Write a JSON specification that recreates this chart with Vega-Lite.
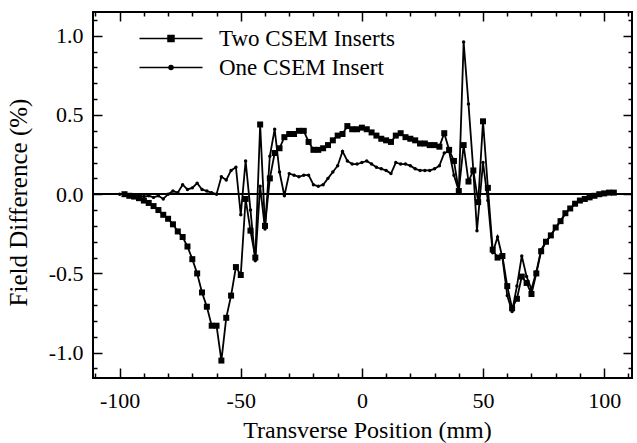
{
  "$schema": "https://vega.github.io/schema/vega-lite/v6.json",
  "width": 539,
  "height": 366,
  "autosize": {"type": "none"},
  "padding": {"left": 93, "top": 12, "right": 5, "bottom": 65},
  "background": "white",
  "config": {
    "view": {"stroke": "black", "strokeWidth": 2},
    "font": "Liberation Serif",
    "axis": {"grid": false, "domain": false, "tickColor": "black", "tickWidth": 1.5, "labelColor": "black", "titleColor": "black", "labelFont": "Liberation Serif", "titleFont": "Liberation Serif", "labelFontSize": 22, "titleFontSize": 24, "titleFontWeight": "normal"}
  },
  "datasets": {
    "d": [
      {"s": "Two CSEM Inserts", "x": -98, "y": 0}, {"s": "Two CSEM Inserts", "x": -96, "y": -0.01}, {"s": "Two CSEM Inserts", "x": -94, "y": -0.015}, {"s": "Two CSEM Inserts", "x": -92, "y": -0.025}, {"s": "Two CSEM Inserts", "x": -90, "y": -0.04}, {"s": "Two CSEM Inserts", "x": -88, "y": -0.055}, {"s": "Two CSEM Inserts", "x": -86, "y": -0.075}, {"s": "Two CSEM Inserts", "x": -84, "y": -0.1}, {"s": "Two CSEM Inserts", "x": -82, "y": -0.13}, {"s": "Two CSEM Inserts", "x": -80, "y": -0.155}, {"s": "Two CSEM Inserts", "x": -78, "y": -0.19}, {"s": "Two CSEM Inserts", "x": -76, "y": -0.235}, {"s": "Two CSEM Inserts", "x": -74, "y": -0.27}, {"s": "Two CSEM Inserts", "x": -72, "y": -0.33}, {"s": "Two CSEM Inserts", "x": -70, "y": -0.41}, {"s": "Two CSEM Inserts", "x": -68, "y": -0.5}, {"s": "Two CSEM Inserts", "x": -66, "y": -0.62}, {"s": "Two CSEM Inserts", "x": -64, "y": -0.71}, {"s": "Two CSEM Inserts", "x": -62, "y": -0.83}, {"s": "Two CSEM Inserts", "x": -60, "y": -0.83}, {"s": "Two CSEM Inserts", "x": -58, "y": -1.05}, {"s": "Two CSEM Inserts", "x": -56, "y": -0.78}, {"s": "Two CSEM Inserts", "x": -54, "y": -0.64}, {"s": "Two CSEM Inserts", "x": -52, "y": -0.46}, {"s": "Two CSEM Inserts", "x": -50, "y": -0.51}, {"s": "Two CSEM Inserts", "x": -48, "y": -0.03}, {"s": "Two CSEM Inserts", "x": -46, "y": -0.23}, {"s": "Two CSEM Inserts", "x": -44, "y": -0.4}, {"s": "Two CSEM Inserts", "x": -42, "y": 0.44}, {"s": "Two CSEM Inserts", "x": -40, "y": -0.2}, {"s": "Two CSEM Inserts", "x": -38, "y": 0.1}, {"s": "Two CSEM Inserts", "x": -36, "y": 0.26}, {"s": "Two CSEM Inserts", "x": -34, "y": 0.29}, {"s": "Two CSEM Inserts", "x": -32, "y": 0.36}, {"s": "Two CSEM Inserts", "x": -30, "y": 0.38}, {"s": "Two CSEM Inserts", "x": -28, "y": 0.38}, {"s": "Two CSEM Inserts", "x": -26, "y": 0.4}, {"s": "Two CSEM Inserts", "x": -24, "y": 0.4}, {"s": "Two CSEM Inserts", "x": -22, "y": 0.33}, {"s": "Two CSEM Inserts", "x": -20, "y": 0.28}, {"s": "Two CSEM Inserts", "x": -18, "y": 0.28}, {"s": "Two CSEM Inserts", "x": -16, "y": 0.29}, {"s": "Two CSEM Inserts", "x": -14, "y": 0.31}, {"s": "Two CSEM Inserts", "x": -12, "y": 0.34}, {"s": "Two CSEM Inserts", "x": -10, "y": 0.37}, {"s": "Two CSEM Inserts", "x": -8, "y": 0.38}, {"s": "Two CSEM Inserts", "x": -6, "y": 0.43}, {"s": "Two CSEM Inserts", "x": -4, "y": 0.41}, {"s": "Two CSEM Inserts", "x": -2, "y": 0.41}, {"s": "Two CSEM Inserts", "x": 0, "y": 0.42}, {"s": "Two CSEM Inserts", "x": 2, "y": 0.41}, {"s": "Two CSEM Inserts", "x": 4, "y": 0.39}, {"s": "Two CSEM Inserts", "x": 6, "y": 0.37}, {"s": "Two CSEM Inserts", "x": 8, "y": 0.35}, {"s": "Two CSEM Inserts", "x": 10, "y": 0.34}, {"s": "Two CSEM Inserts", "x": 12, "y": 0.33}, {"s": "Two CSEM Inserts", "x": 14, "y": 0.37}, {"s": "Two CSEM Inserts", "x": 16, "y": 0.385}, {"s": "Two CSEM Inserts", "x": 18, "y": 0.36}, {"s": "Two CSEM Inserts", "x": 20, "y": 0.35}, {"s": "Two CSEM Inserts", "x": 22, "y": 0.34}, {"s": "Two CSEM Inserts", "x": 24, "y": 0.32}, {"s": "Two CSEM Inserts", "x": 26, "y": 0.32}, {"s": "Two CSEM Inserts", "x": 28, "y": 0.31}, {"s": "Two CSEM Inserts", "x": 30, "y": 0.31}, {"s": "Two CSEM Inserts", "x": 32, "y": 0.3}, {"s": "Two CSEM Inserts", "x": 34, "y": 0.385}, {"s": "Two CSEM Inserts", "x": 36, "y": 0.28}, {"s": "Two CSEM Inserts", "x": 38, "y": 0.21}, {"s": "Two CSEM Inserts", "x": 40, "y": 0.02}, {"s": "Two CSEM Inserts", "x": 42, "y": 0.31}, {"s": "Two CSEM Inserts", "x": 44, "y": 0.08}, {"s": "Two CSEM Inserts", "x": 46, "y": 0.15}, {"s": "Two CSEM Inserts", "x": 48, "y": -0.05}, {"s": "Two CSEM Inserts", "x": 50, "y": 0.46}, {"s": "Two CSEM Inserts", "x": 52, "y": 0.04}, {"s": "Two CSEM Inserts", "x": 54, "y": -0.35}, {"s": "Two CSEM Inserts", "x": 56, "y": -0.4}, {"s": "Two CSEM Inserts", "x": 58, "y": -0.39}, {"s": "Two CSEM Inserts", "x": 60, "y": -0.58}, {"s": "Two CSEM Inserts", "x": 62, "y": -0.72}, {"s": "Two CSEM Inserts", "x": 64, "y": -0.66}, {"s": "Two CSEM Inserts", "x": 66, "y": -0.52}, {"s": "Two CSEM Inserts", "x": 68, "y": -0.56}, {"s": "Two CSEM Inserts", "x": 70, "y": -0.63}, {"s": "Two CSEM Inserts", "x": 72, "y": -0.5}, {"s": "Two CSEM Inserts", "x": 74, "y": -0.36}, {"s": "Two CSEM Inserts", "x": 76, "y": -0.3}, {"s": "Two CSEM Inserts", "x": 78, "y": -0.26}, {"s": "Two CSEM Inserts", "x": 80, "y": -0.21}, {"s": "Two CSEM Inserts", "x": 82, "y": -0.17}, {"s": "Two CSEM Inserts", "x": 84, "y": -0.12}, {"s": "Two CSEM Inserts", "x": 86, "y": -0.09}, {"s": "Two CSEM Inserts", "x": 88, "y": -0.06}, {"s": "Two CSEM Inserts", "x": 90, "y": -0.04}, {"s": "Two CSEM Inserts", "x": 92, "y": -0.03}, {"s": "Two CSEM Inserts", "x": 94, "y": -0.02}, {"s": "Two CSEM Inserts", "x": 96, "y": -0.01}, {"s": "Two CSEM Inserts", "x": 98, "y": 0}, {"s": "Two CSEM Inserts", "x": 100, "y": 0.005}, {"s": "Two CSEM Inserts", "x": 102, "y": 0.01}, {"s": "Two CSEM Inserts", "x": 104, "y": 0.01},
      {"s": "One CSEM Insert", "x": -100, "y": 0}, {"s": "One CSEM Insert", "x": -98, "y": 0}, {"s": "One CSEM Insert", "x": -96, "y": -0.005}, {"s": "One CSEM Insert", "x": -94, "y": -0.01}, {"s": "One CSEM Insert", "x": -92, "y": -0.01}, {"s": "One CSEM Insert", "x": -90, "y": -0.015}, {"s": "One CSEM Insert", "x": -88, "y": -0.01}, {"s": "One CSEM Insert", "x": -86, "y": -0.02}, {"s": "One CSEM Insert", "x": -84, "y": -0.01}, {"s": "One CSEM Insert", "x": -82, "y": -0.03}, {"s": "One CSEM Insert", "x": -80, "y": 0}, {"s": "One CSEM Insert", "x": -78, "y": 0.02}, {"s": "One CSEM Insert", "x": -76, "y": 0.01}, {"s": "One CSEM Insert", "x": -74, "y": 0.06}, {"s": "One CSEM Insert", "x": -72, "y": 0.03}, {"s": "One CSEM Insert", "x": -70, "y": 0.04}, {"s": "One CSEM Insert", "x": -68, "y": 0.07}, {"s": "One CSEM Insert", "x": -66, "y": 0.03}, {"s": "One CSEM Insert", "x": -64, "y": 0.02}, {"s": "One CSEM Insert", "x": -62, "y": 0.01}, {"s": "One CSEM Insert", "x": -60, "y": 0}, {"s": "One CSEM Insert", "x": -58, "y": 0.11}, {"s": "One CSEM Insert", "x": -56, "y": 0.09}, {"s": "One CSEM Insert", "x": -54, "y": 0.15}, {"s": "One CSEM Insert", "x": -52, "y": 0.17}, {"s": "One CSEM Insert", "x": -50, "y": -0.13}, {"s": "One CSEM Insert", "x": -48, "y": 0.21}, {"s": "One CSEM Insert", "x": -46, "y": -0.1}, {"s": "One CSEM Insert", "x": -44, "y": -0.42}, {"s": "One CSEM Insert", "x": -42, "y": 0.05}, {"s": "One CSEM Insert", "x": -40, "y": -0.22}, {"s": "One CSEM Insert", "x": -38, "y": 0.24}, {"s": "One CSEM Insert", "x": -36, "y": 0.41}, {"s": "One CSEM Insert", "x": -34, "y": 0.14}, {"s": "One CSEM Insert", "x": -32, "y": -0.01}, {"s": "One CSEM Insert", "x": -30, "y": 0.13}, {"s": "One CSEM Insert", "x": -28, "y": 0.12}, {"s": "One CSEM Insert", "x": -26, "y": 0.11}, {"s": "One CSEM Insert", "x": -24, "y": 0.12}, {"s": "One CSEM Insert", "x": -22, "y": 0.12}, {"s": "One CSEM Insert", "x": -20, "y": 0.06}, {"s": "One CSEM Insert", "x": -18, "y": 0.05}, {"s": "One CSEM Insert", "x": -16, "y": 0.06}, {"s": "One CSEM Insert", "x": -14, "y": 0.1}, {"s": "One CSEM Insert", "x": -12, "y": 0.14}, {"s": "One CSEM Insert", "x": -10, "y": 0.18}, {"s": "One CSEM Insert", "x": -8, "y": 0.27}, {"s": "One CSEM Insert", "x": -6, "y": 0.21}, {"s": "One CSEM Insert", "x": -4, "y": 0.19}, {"s": "One CSEM Insert", "x": -2, "y": 0.19}, {"s": "One CSEM Insert", "x": 0, "y": 0.2}, {"s": "One CSEM Insert", "x": 2, "y": 0.21}, {"s": "One CSEM Insert", "x": 4, "y": 0.19}, {"s": "One CSEM Insert", "x": 6, "y": 0.17}, {"s": "One CSEM Insert", "x": 8, "y": 0.16}, {"s": "One CSEM Insert", "x": 10, "y": 0.15}, {"s": "One CSEM Insert", "x": 12, "y": 0.13}, {"s": "One CSEM Insert", "x": 14, "y": 0.2}, {"s": "One CSEM Insert", "x": 16, "y": 0.19}, {"s": "One CSEM Insert", "x": 18, "y": 0.19}, {"s": "One CSEM Insert", "x": 20, "y": 0.18}, {"s": "One CSEM Insert", "x": 22, "y": 0.16}, {"s": "One CSEM Insert", "x": 24, "y": 0.15}, {"s": "One CSEM Insert", "x": 26, "y": 0.15}, {"s": "One CSEM Insert", "x": 28, "y": 0.15}, {"s": "One CSEM Insert", "x": 30, "y": 0.16}, {"s": "One CSEM Insert", "x": 32, "y": 0.18}, {"s": "One CSEM Insert", "x": 34, "y": 0.26}, {"s": "One CSEM Insert", "x": 36, "y": 0.27}, {"s": "One CSEM Insert", "x": 38, "y": 0.12}, {"s": "One CSEM Insert", "x": 40, "y": 0.02}, {"s": "One CSEM Insert", "x": 42, "y": 0.96}, {"s": "One CSEM Insert", "x": 44, "y": 0.57}, {"s": "One CSEM Insert", "x": 46, "y": 0.15}, {"s": "One CSEM Insert", "x": 47.5, "y": -0.23}, {"s": "One CSEM Insert", "x": 50, "y": 0.2}, {"s": "One CSEM Insert", "x": 52, "y": -0.04}, {"s": "One CSEM Insert", "x": 54, "y": -0.37}, {"s": "One CSEM Insert", "x": 56, "y": -0.27}, {"s": "One CSEM Insert", "x": 58, "y": -0.4}, {"s": "One CSEM Insert", "x": 60, "y": -0.64}, {"s": "One CSEM Insert", "x": 62, "y": -0.74}, {"s": "One CSEM Insert", "x": 64, "y": -0.58}, {"s": "One CSEM Insert", "x": 66, "y": -0.39}, {"s": "One CSEM Insert", "x": 68, "y": -0.52}, {"s": "One CSEM Insert", "x": 70, "y": -0.6}, {"s": "One CSEM Insert", "x": 72, "y": -0.49}, {"s": "One CSEM Insert", "x": 74, "y": -0.35}, {"s": "One CSEM Insert", "x": 76, "y": -0.3}, {"s": "One CSEM Insert", "x": 78, "y": -0.26}, {"s": "One CSEM Insert", "x": 80, "y": -0.21}, {"s": "One CSEM Insert", "x": 82, "y": -0.17}, {"s": "One CSEM Insert", "x": 84, "y": -0.12}, {"s": "One CSEM Insert", "x": 86, "y": -0.09}, {"s": "One CSEM Insert", "x": 88, "y": -0.06}, {"s": "One CSEM Insert", "x": 90, "y": -0.04}, {"s": "One CSEM Insert", "x": 92, "y": -0.03}, {"s": "One CSEM Insert", "x": 94, "y": -0.02}, {"s": "One CSEM Insert", "x": 96, "y": -0.01}, {"s": "One CSEM Insert", "x": 98, "y": 0}, {"s": "One CSEM Insert", "x": 100, "y": 0.005}, {"s": "One CSEM Insert", "x": 102, "y": 0.01}
    ]
  },
  "data": {"name": "d"},
  "resolve": {"axis": {"x": "independent", "y": "independent"}, "scale": {"shape": "independent", "size": "independent"}},
  "layer": [
    {
      "mark": {"type": "rule", "color": "black", "strokeWidth": 1},
      "encoding": {
        "y": {"datum": 0, "type": "quantitative", "axis": null}
      }
    },
    {
      "mark": {"type": "line", "color": "black", "strokeWidth": 1.8},
      "encoding": {
        "x": {"field": "x", "type": "quantitative", "scale": {"domain": [-111, 111.5], "nice": false, "zero": false},
          "axis": {"orient": "bottom", "title": "Transverse Position (mm)", "values": [-110, -100, -90, -80, -70, -60, -50, -40, -30, -20, -10, 0, 10, 20, 30, 40, 50, 60, 70, 80, 90, 100, 110],
            "labelExpr": "datum.value % 50 === 0 ? replace(format(datum.value, 'd'), '\u2212', '-') : ''",
            "tickSize": {"condition": {"test": "datum.value % 50 === 0", "value": -10}, "value": -5},
            "labelPadding": 22, "labelBaseline": "top", "titleX": 274, "titleY": 59, "titleBaseline": "alphabetic", "titleAnchor": "middle"}},
        "y": {"field": "y", "type": "quantitative", "scale": {"domain": [-1.16, 1.15], "nice": false, "zero": false},
          "axis": {"orient": "left", "title": "Field Difference (%)", "titleFontSize": 25, "values": [-1.1, -1, -0.9, -0.8, -0.7, -0.6, -0.5, -0.4, -0.3, -0.2, -0.1, 0, 0.1, 0.2, 0.3, 0.4, 0.5, 0.6, 0.7, 0.8, 0.9, 1, 1.1],
            "labelExpr": "abs(datum.value*2 - round(datum.value*2)) < 0.000001 ? replace(format(datum.value, '.1f'), '\u2212', '-') : ''",
            "tickSize": {"condition": {"test": "abs(datum.value*2 - round(datum.value*2)) < 0.000001", "value": -9}, "value": -4},
            "labelPadding": 19, "titleX": -75, "titleY": 190, "titleAngle": -90, "titleBaseline": "middle", "titleAnchor": "middle"}},
        "detail": {"field": "s"}
      }
    },
    {
      "mark": {"type": "point", "filled": true, "color": "black", "opacity": 1},
      "encoding": {
        "x": {"field": "x", "type": "quantitative",
          "axis": {"orient": "top", "title": null, "labels": false, "values": [-110, -100, -90, -80, -70, -60, -50, -40, -30, -20, -10, 0, 10, 20, 30, 40, 50, 60, 70, 80, 90, 100, 110],
            "tickSize": {"condition": {"test": "datum.value % 50 === 0", "value": -9}, "value": -4}}},
        "y": {"field": "y", "type": "quantitative",
          "axis": {"orient": "right", "title": null, "labels": false, "values": [-1.1, -1, -0.9, -0.8, -0.7, -0.6, -0.5, -0.4, -0.3, -0.2, -0.1, 0, 0.1, 0.2, 0.3, 0.4, 0.5, 0.6, 0.7, 0.8, 0.9, 1, 1.1],
            "tickSize": {"condition": {"test": "abs(datum.value*2 - round(datum.value*2)) < 0.000001", "value": -9}, "value": -4}}},
        "shape": {"field": "s", "type": "nominal", "scale": {"domain": ["Two CSEM Inserts", "One CSEM Insert"], "range": ["square", "circle"]}, "legend": null},
        "size": {"field": "s", "type": "nominal", "scale": {"domain": ["Two CSEM Inserts", "One CSEM Insert"], "range": [36, 12]}, "legend": null}
      }
    },
    {
      "transform": [{"filter": "datum.x > 1000"}],
      "mark": {"type": "point", "filled": true, "fill": "black", "stroke": "black", "strokeWidth": 1.5, "opacity": 1},
      "encoding": {
        "x": {"field": "x", "type": "quantitative", "axis": null},
        "y": {"field": "y", "type": "quantitative", "axis": null},
        "shape": {"field": "s", "type": "nominal",
          "scale": {"domain": ["Two CSEM Inserts", "One CSEM Insert"], "range": ["M-6.3,0H6.3M-0.6,-0.6H0.6V0.6H-0.6Z", "M-6.3,0H6.3M0.4,0A0.4,0.4 0 1,1 -0.4,0A0.4,0.4 0 1,1 0.4,0Z"]},
          "legend": {"orient": "none", "legendX": 66.5, "legendY": 15, "title": null, "padding": 0, "symbolSize": 100, "labelFont": "Liberation Serif", "labelFontSize": 23, "labelColor": "black", "labelOffset": 36.5, "labelLimit": 400, "rowPadding": 5,
            "encode": {"symbols": {"update": {"stroke": {"value": "black"}, "strokeWidth": {"value": 1.5}, "fill": {"value": "black"}, "opacity": {"value": 1}}}}}}
      }
    }
  ]
}
